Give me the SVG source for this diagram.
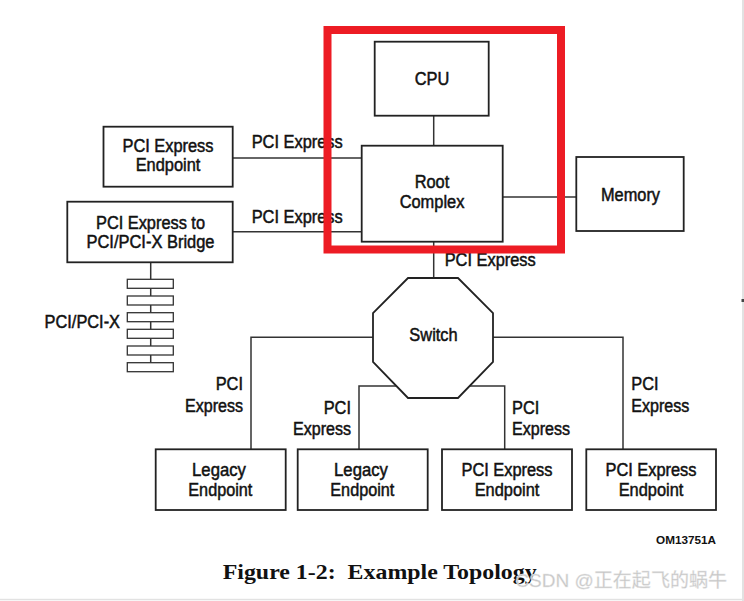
<svg xmlns="http://www.w3.org/2000/svg" width="744" height="601" viewBox="0 0 744 601">
<style>
  .box { fill: #ffffff; stroke: #222; stroke-width: 1.8; }
  .bus { fill: #ffffff; stroke: #333; stroke-width: 1.3; }
  .ln { fill: none; stroke: #333; stroke-width: 1.5; }
  .t { font-family: "Liberation Sans", Arial, sans-serif; font-size: 18px; fill: #111; stroke: #111; stroke-width: 0.5; }
  .c { text-anchor: middle; }
  .e { text-anchor: end; }
  .s { text-anchor: start; }
</style>
<rect x="0" y="0" width="744" height="601" fill="#ffffff"/>

<g id="connectors">
  <line class="ln" x1="433.7" y1="116" x2="433.7" y2="146"/>
  <line class="ln" x1="503" y1="197" x2="576" y2="197"/>
  <line class="ln" x1="233" y1="158" x2="362" y2="158"/>
  <line class="ln" x1="233" y1="231.7" x2="362" y2="231.7"/>
  <line class="ln" x1="433.7" y1="242" x2="433.7" y2="278"/>
  <polyline class="ln" points="373,337.3 251,337.3 251,449"/>
  <polyline class="ln" points="493,337.3 623,337.3 623,449"/>
  <polyline class="ln" points="397,386 359,386 359,449"/>
  <polyline class="ln" points="469.5,386 504.7,386 504.7,449"/>
  <line class="ln" x1="150.7" y1="262" x2="150.7" y2="363"/>
  <text class="t s" x="251.7" y="148" textLength="91" lengthAdjust="spacingAndGlyphs">PCI Express</text>
  <text class="t s" x="251.7" y="223" textLength="91" lengthAdjust="spacingAndGlyphs">PCI Express</text>
  <text class="t s" x="444.7" y="266" textLength="91" lengthAdjust="spacingAndGlyphs">PCI Express</text>
  <text class="t e" x="243" y="390" textLength="27.3" lengthAdjust="spacingAndGlyphs">PCI</text>
  <text class="t e" x="243" y="412" textLength="58" lengthAdjust="spacingAndGlyphs">Express</text>
  <text class="t e" x="351" y="414" textLength="27.3" lengthAdjust="spacingAndGlyphs">PCI</text>
  <text class="t e" x="351" y="435" textLength="58" lengthAdjust="spacingAndGlyphs">Express</text>
  <text class="t s" x="512" y="414" textLength="27.3" lengthAdjust="spacingAndGlyphs">PCI</text>
  <text class="t s" x="512" y="435" textLength="58" lengthAdjust="spacingAndGlyphs">Express</text>
  <text class="t s" x="631.3" y="390" textLength="27.3" lengthAdjust="spacingAndGlyphs">PCI</text>
  <text class="t s" x="631.3" y="412" textLength="58" lengthAdjust="spacingAndGlyphs">Express</text>
</g>

<g id="cpu">
  <rect class="box" x="374.7" y="41.7" width="114" height="74"/>
  <text class="t c" x="432" y="84.5" textLength="34.6" lengthAdjust="spacingAndGlyphs">CPU</text>
</g>

<g id="root-complex">
  <rect class="box" x="361.7" y="145.7" width="141" height="96"/>
  <text class="t c" x="432" y="188" textLength="34.6" lengthAdjust="spacingAndGlyphs">Root</text>
  <text class="t c" x="432" y="208" textLength="64.7" lengthAdjust="spacingAndGlyphs">Complex</text>
</g>

<g id="memory">
  <rect class="box" x="576.3" y="157" width="107.4" height="74"/>
  <text class="t c" x="630.5" y="201" textLength="59" lengthAdjust="spacingAndGlyphs">Memory</text>
</g>

<g id="pcie-endpoint-top">
  <rect class="box" x="103.5" y="126.7" width="129.2" height="60"/>
  <text class="t c" x="168" y="151.8" textLength="91" lengthAdjust="spacingAndGlyphs">PCI Express</text>
  <text class="t c" x="168" y="170.8" textLength="64.7" lengthAdjust="spacingAndGlyphs">Endpoint</text>
</g>

<g id="bridge">
  <rect class="box" x="67.3" y="201.7" width="165.4" height="60.6"/>
  <text class="t c" x="150.5" y="228.5" textLength="109" lengthAdjust="spacingAndGlyphs">PCI Express to</text>
  <text class="t c" x="150.5" y="248" textLength="128" lengthAdjust="spacingAndGlyphs">PCI/PCI-X Bridge</text>
</g>

<g id="pci-bus">
  <rect class="bus" x="127.3" y="279.3" width="46" height="9"/>
  <rect class="bus" x="127.3" y="296" width="46" height="9"/>
  <rect class="bus" x="127.3" y="312.7" width="46" height="9"/>
  <rect class="bus" x="127.3" y="329.3" width="46" height="9"/>
  <rect class="bus" x="127.3" y="346" width="46" height="9"/>
  <rect class="bus" x="127.3" y="362.7" width="46" height="9"/>
  <text class="t e" x="120" y="328" textLength="75.4" lengthAdjust="spacingAndGlyphs">PCI/PCI-X</text>
</g>

<g id="switch">
  <polygon class="box" points="408,278 458,278 493,313 493,362 458,398 408,398 373,362 373,313"/>
  <text class="t c" x="433.5" y="341" textLength="48.3" lengthAdjust="spacingAndGlyphs">Switch</text>
</g>

<g id="legacy-endpoint-1">
  <rect class="box" x="155.7" y="449.3" width="130" height="60.7"/>
  <text class="t c" x="219" y="476" textLength="53.8" lengthAdjust="spacingAndGlyphs">Legacy</text>
  <text class="t c" x="220.3" y="495.5" textLength="64" lengthAdjust="spacingAndGlyphs">Endpoint</text>
</g>

<g id="legacy-endpoint-2">
  <rect class="box" x="297.7" y="449.3" width="130" height="60.7"/>
  <text class="t c" x="361" y="476" textLength="53.8" lengthAdjust="spacingAndGlyphs">Legacy</text>
  <text class="t c" x="362.3" y="495.5" textLength="64" lengthAdjust="spacingAndGlyphs">Endpoint</text>
</g>

<g id="pcie-endpoint-3">
  <rect class="box" x="442" y="449.3" width="130" height="60.7"/>
  <text class="t c" x="507" y="476" textLength="91" lengthAdjust="spacingAndGlyphs">PCI Express</text>
  <text class="t c" x="507" y="495.5" textLength="64.7" lengthAdjust="spacingAndGlyphs">Endpoint</text>
</g>

<g id="pcie-endpoint-4">
  <rect class="box" x="586.3" y="449.3" width="129.7" height="60.7"/>
  <text class="t c" x="651" y="476" textLength="91" lengthAdjust="spacingAndGlyphs">PCI Express</text>
  <text class="t c" x="651" y="495.5" textLength="64.7" lengthAdjust="spacingAndGlyphs">Endpoint</text>
</g>

<text x="716" y="543.5" text-anchor="end" font-family="'Liberation Sans', Arial, sans-serif" font-size="11.5" font-weight="bold" fill="#111" textLength="60" lengthAdjust="spacingAndGlyphs">OM13751A</text>

<text x="222.7" y="579" xml:space="preserve" font-family="'Liberation Serif', 'Times New Roman', serif" font-size="21" font-weight="bold" fill="#111" textLength="314" lengthAdjust="spacingAndGlyphs">Figure 1-2:  Example Topology</text>

<g id="highlight">
  <rect x="327.5" y="30" width="233.5" height="219.5" fill="none" stroke="#ED1C24" stroke-width="8"/>
</g>

<text x="515.3" y="587" font-family="'Liberation Sans', 'Noto Sans CJK SC', sans-serif" font-size="19" fill="#c4c4c4" stroke="#e8e8e8" stroke-width="0.4" textLength="211.7" lengthAdjust="spacingAndGlyphs">CSDN @正在起飞的蜗牛</text>

<rect x="742" y="0" width="2" height="601" fill="#e2e2e2"/>
<rect x="0" y="598.8" width="742" height="1.5" fill="#e2e2e2"/>
<rect x="741.5" y="299" width="2.5" height="3" fill="#444"/>
</svg>
